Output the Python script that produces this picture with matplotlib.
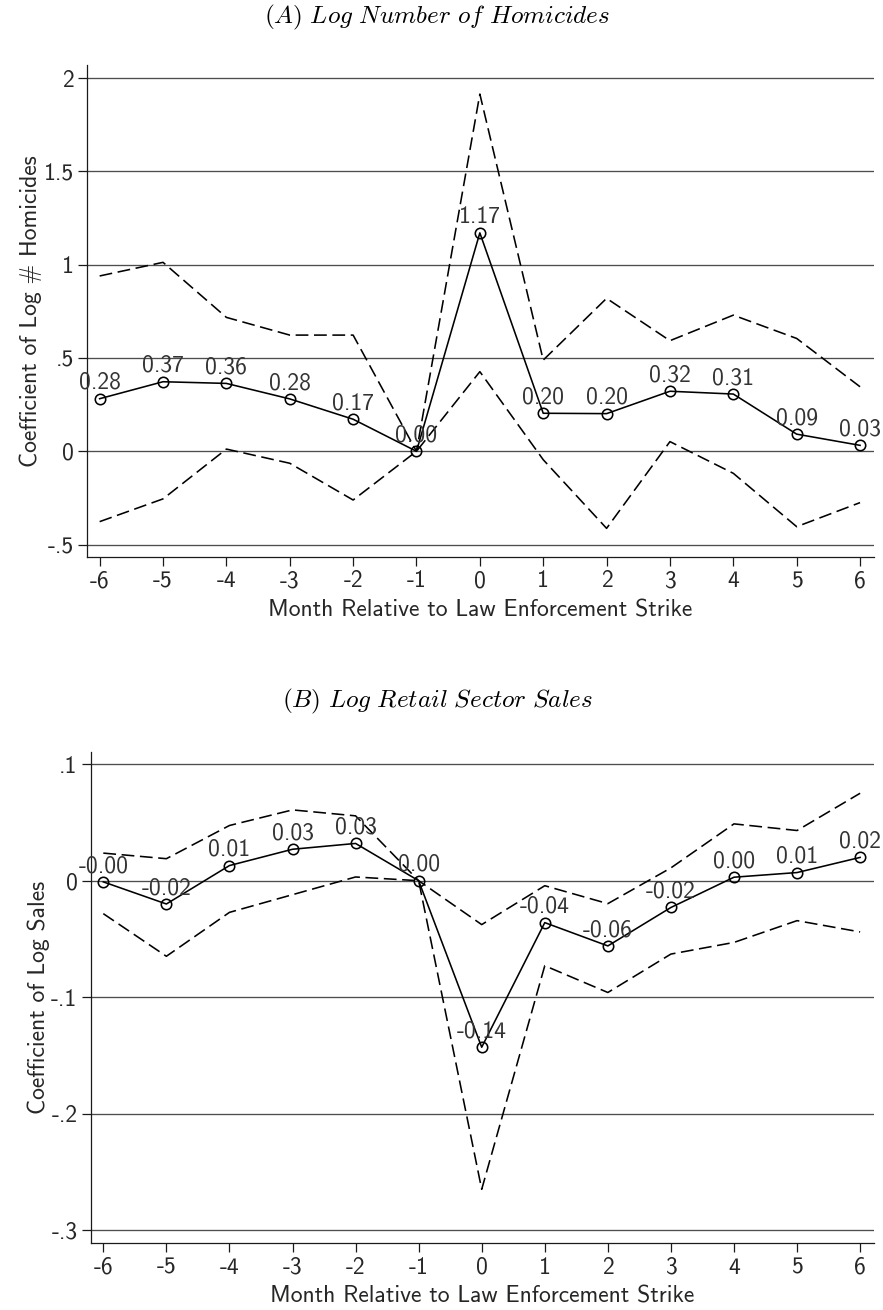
import numpy as np
import matplotlib.pyplot as plt

plt.rcParams['mathtext.fontset'] = 'cm'
plt.rcParams['font.family'] = ['cmss10', 'DejaVu Sans']
plt.rcParams['axes.unicode_minus'] = False

months = np.arange(-6, 7)
xtick_labels = ['-6', '-5', '-4', '-3', '-2', '-1', '0', '1', '2', '3', '4', '5', '6']

# panel A: log number of homicides
hom_coef = [0.282, 0.373, 0.364, 0.281, 0.172, 0.0, 1.171, 0.204, 0.202, 0.322, 0.307, 0.092, 0.032]
hom_hi = [0.94, 1.013, 0.718, 0.623, 0.623, 0.0, 1.915, 0.489, 0.82, 0.593, 0.73, 0.605, 0.346]
hom_lo = [-0.377, -0.255, 0.012, -0.064, -0.261, 0.0, 0.427, -0.045, -0.413, 0.052, -0.118, -0.404, -0.275]
hom_yticks = [-0.5, 0, 0.5, 1, 1.5, 2]
hom_yticklabels = ['-.5', '0', '.5', '1', '1.5', '2']

# panel B: log retail sector sales
ret_coef = [-0.001, -0.020, 0.013, 0.027, 0.032, 0.0, -0.143, -0.036, -0.056, -0.023, 0.003, 0.007, 0.020]
ret_hi = [0.0237, 0.0189, 0.0474, 0.0608, 0.0557, 0.0, -0.0377, -0.0043, -0.0197, 0.011, 0.0488, 0.0431, 0.0751]
ret_lo = [-0.0283, -0.0649, -0.0272, -0.012, 0.0032, 0.0, -0.265, -0.073, -0.096, -0.063, -0.053, -0.0343, -0.044]
ret_yticks = [-0.3, -0.2, -0.1, 0, 0.1]
ret_yticklabels = ['-.3', '-.2', '-.1', '0', '.1']

TXT = '#262626'
FS = 17


def panel(ax, coef, lo, hi, yticks, yticklabels, ylim, ylabel):
    # confidence bounds dashed, point estimates with hollow circles
    ax.plot(months, hi, color='black', lw=1.15, dashes=(8, 3.5))
    ax.plot(months, lo, color='black', lw=1.15, dashes=(8, 3.5))
    ax.plot(months, coef, color='black', lw=1.15, marker='o', ms=7.5,
            mfc='none', mec='black', mew=1.15, zorder=4)
    for x, v in zip(months, coef):
        ax.annotate('%.2f' % v, (x, v), xytext=(0, 3.5), textcoords='offset points',
                    ha='center', va='bottom', fontsize=FS, color='#333333',
                    annotation_clip=False, zorder=5)
    ax.set_xlim(-6.2, 6.22)
    ax.set_ylim(*ylim)
    ax.set_xticks(months)
    ax.set_xticklabels(xtick_labels)
    ax.set_yticks(yticks)
    ax.set_yticklabels(yticklabels)
    ax.yaxis.grid(True, color='#4d4d4d', lw=0.95)
    ax.xaxis.grid(False)
    ax.set_axisbelow(True)
    for s in ['top', 'right']:
        ax.spines[s].set_visible(False)
    for s in ['left', 'bottom']:
        ax.spines[s].set_color('#1a1a1a')
        ax.spines[s].set_linewidth(0.9)
    ax.tick_params(direction='out', length=6.5, width=0.9, color='#1a1a1a',
                   labelsize=FS, labelcolor=TXT, pad=3)
    ax.set_xlabel('Month Relative to Law Enforcement Strike', fontsize=FS, color=TXT, labelpad=5)
    ax.set_ylabel(ylabel, fontsize=FS, color=TXT, labelpad=1)


fig = plt.figure(figsize=(8.83, 13.10), dpi=100)
axA = fig.add_axes([0.0985, 0.5746, 0.8913, 0.3758])
axB = fig.add_axes([0.1027, 0.0509, 0.8871, 0.3753])

panel(axA, hom_coef, hom_lo, hom_hi, hom_yticks, hom_yticklabels, (-0.568, 2.071),
      'Coefficient of Log # Homicides')
panel(axB, ret_coef, ret_lo, ret_hi, ret_yticks, ret_yticklabels, (-0.3114, 0.1108),
      'Coefficient of Log Sales')

fig.text(0.495, 0.9863, r'$\mathit{(A)\ Log\ Number\ of\ Homicides}$',
         ha='center', va='center', fontsize=18.2, color='black')
fig.text(0.495, 0.4645, r'$\mathit{(B)\ Log\ Retail\ Sector\ Sales}$',
         ha='center', va='center', fontsize=18.2, color='black')

fig.savefig('out.png', dpi=100)
